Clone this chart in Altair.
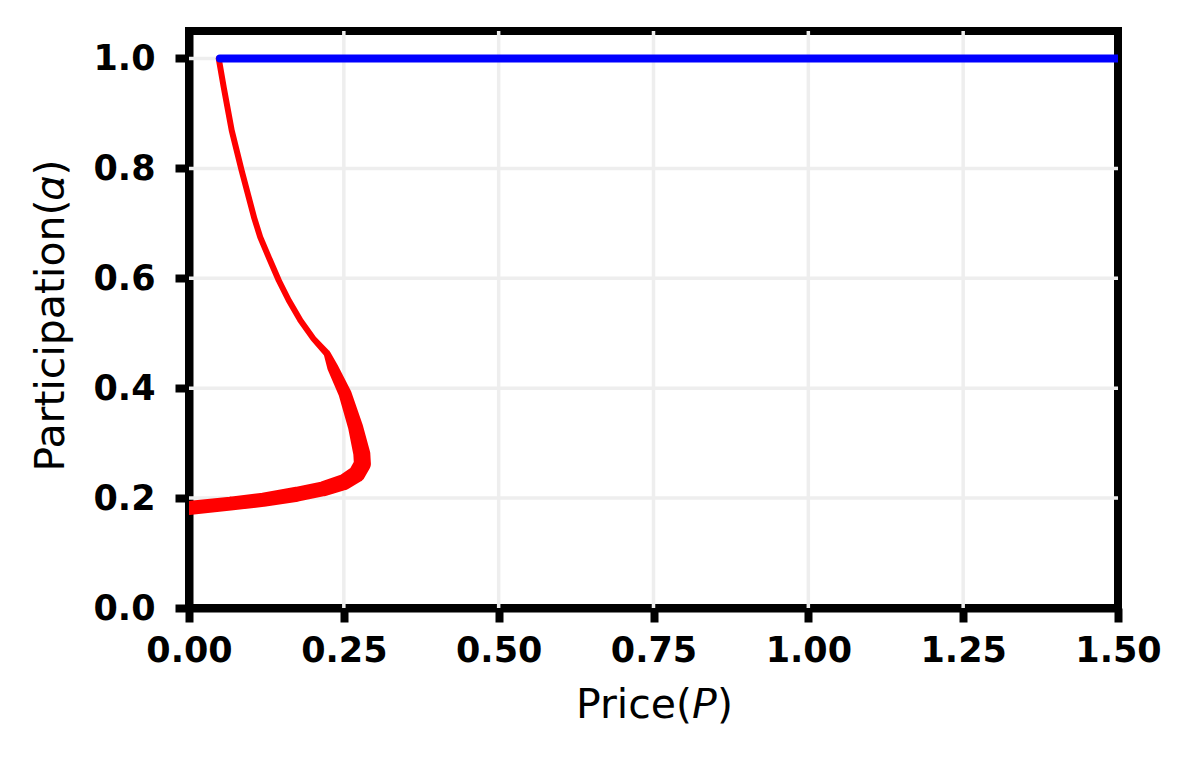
import altair as alt
import pandas as pd

# Red curve
red_price = [0.048, 0.056, 0.069, 0.085, 0.105, 0.115, 0.130, 0.145, 0.161, 0.180,
             0.201, 0.223, 0.232, 0.252, 0.269, 0.279, 0.280, 0.271, 0.250, 0.217,
             0.174, 0.120, 0.067, 0.007, 0.0]
red_alpha = [1.0, 0.948, 0.869, 0.796, 0.711, 0.675, 0.635, 0.596, 0.560, 0.523,
             0.490, 0.463, 0.438, 0.390, 0.329, 0.281, 0.262, 0.244, 0.229, 0.217,
             0.207, 0.197, 0.190, 0.183, 0.182]
red_band = [6, 6, 6, 6, 6, 6, 6, 6, 6, 6,
            6, 7, 11, 13, 15, 17, 17, 17, 16, 15,
            15, 14, 14, 14, 14]

# Blue curve
blue_price = [0.05, 1.5]
blue_alpha = [1.0, 1.0]

x_ticks = [0.0, 0.25, 0.5, 0.75, 1.0, 1.25, 1.5]
y_ticks = [0.0, 0.2, 0.4, 0.6, 0.8, 1.0]
x_grid = [0.25, 0.5, 0.75, 1.0, 1.25]
y_grid = [0.2, 0.4, 0.6, 0.8, 1.0]

red_df = pd.DataFrame({"price": red_price, "alpha": red_alpha, "w": red_band,
                       "i": list(range(len(red_price)))})
blue_df = pd.DataFrame({"price": blue_price, "alpha": blue_alpha})
xg_df = pd.DataFrame({"price": x_grid})
yg_df = pd.DataFrame({"alpha": y_grid})

x_scale = alt.Scale(domain=[0, 1.5], nice=False, zero=False)
y_scale = alt.Scale(domain=[0, 1.05], nice=False, zero=False)

x_enc = alt.X("price:Q", scale=x_scale,
              axis=alt.Axis(values=x_ticks, format=".2f", title="Price(𝘗)",
                            labelFlush=False, labelPadding=11, grid=False,
                            titleX=465, titleY=109, titleBaseline="alphabetic"))
y_enc = alt.Y("alpha:Q", scale=y_scale,
              axis=alt.Axis(values=y_ticks, format=".1f", title="Participation(𝛼)",
                            labelPadding=20, grid=False, titleAngle=-90,
                            titleX=-126, titleY=284, titleBaseline="alphabetic",
                            titleAlign="center"))

grid_color = "#eeeeee"
xgrid = alt.Chart(xg_df).mark_rule(color=grid_color, strokeWidth=3.5).encode(
    x=alt.X("price:Q", scale=x_scale)
)
ygrid = alt.Chart(yg_df).mark_rule(color=grid_color, strokeWidth=3.5).encode(
    y=alt.Y("alpha:Q", scale=y_scale)
)

red = alt.Chart(red_df).mark_trail(color="#ff0000", clip=True).encode(
    x=x_enc, y=y_enc,
    size=alt.Size("w:Q", scale=None, legend=None),
    order="i:Q",
)

blue = alt.Chart(blue_df).mark_line(color="#0000ff", strokeWidth=8,
                                    strokeCap="round", clip=True).encode(
    x="price:Q", y="alpha:Q"
)

chart = (xgrid + ygrid + red + blue).properties(
    width=929, height=577,
    autosize=alt.AutoSizeParams(type="none"),
    padding={"left": 181, "top": 23, "right": 60, "bottom": 130},
).configure_view(
    stroke="black", strokeWidth=8
).configure_axis(
    domainColor="black", domainWidth=8,
    tickColor="black", tickWidth=8, tickSize=14,
    labelFont="DejaVu Sans", labelFontWeight="bold", labelFontSize=35,
    labelColor="black",
    titleFont="DejaVu Sans", titleFontWeight="normal", titleFontSize=41,
    titleColor="black",
)

chart.save("out.html", embed_options={"renderer": "svg", "actions": False})
